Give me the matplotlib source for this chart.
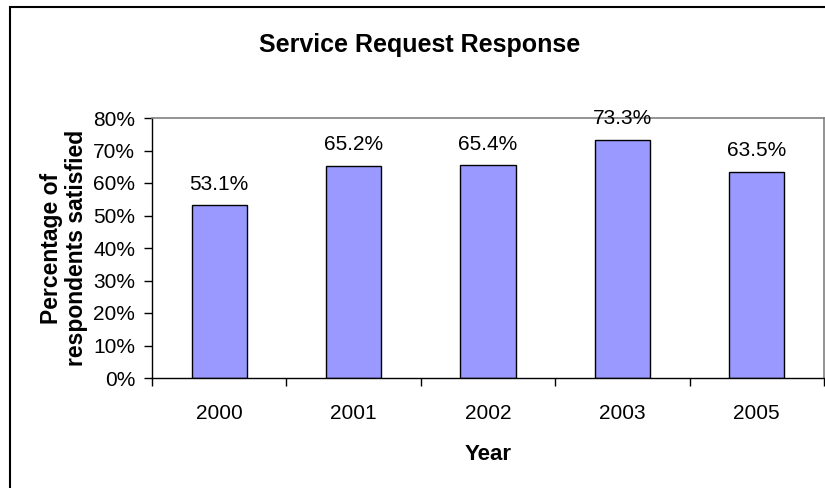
import matplotlib.pyplot as plt
from matplotlib.patches import Rectangle
from matplotlib.ticker import FuncFormatter, FixedLocator

plt.rcParams['font.family'] = ['Liberation Sans', 'DejaVu Sans']

years = ['2000', '2001', '2002', '2003', '2005']
satisfied = [53.1, 65.2, 65.4, 73.3, 63.5]

fig = plt.figure(figsize=(8.25, 4.88), dpi=100)
ax = fig.add_axes([152 / 825, 1 - 378 / 488, (824 - 152) / 825, (378 - 118) / 488])

x = list(range(len(years)))
bars = ax.bar(x, satisfied, width=0.41, color='#9999FF', edgecolor='black', linewidth=1.0)
for xi, v in zip(x, satisfied):
    ax.text(xi, v + 3.6, f'{v:.1f}%', ha='center', va='bottom', fontsize=15)

ax.set_xlim(-0.5, len(years) - 0.5)
ax.set_ylim(0, 80)
ax.set_yticks(range(0, 81, 10))
ax.yaxis.set_major_formatter(FuncFormatter(lambda v, p: f'{v:.0f}%'))
ax.tick_params(axis='y', direction='out', length=6, width=1, labelsize=15, pad=6)

# category labels under bars, ticks between the categories
ax.set_xticks(x)
ax.set_xticklabels(years)
ax.tick_params(axis='x', which='major', length=0, labelsize=15, pad=19)
ax.xaxis.set_minor_locator(FixedLocator([i - 0.5 for i in range(len(years) + 1)]))
ax.tick_params(axis='x', which='minor', direction='out', length=6, width=1)

for side in ['top', 'right']:
    ax.spines[side].set_color('#808080')
    ax.spines[side].set_linewidth(1.2)
for side in ['left', 'bottom']:
    ax.spines[side].set_color('black')
    ax.spines[side].set_linewidth(1.0)

ax.set_xlabel('Year', fontsize=16, fontweight='bold', labelpad=15)
ax.set_ylabel('Percentage of\nrespondents satisfied', fontsize=16.5, fontweight='bold',
              labelpad=4, linespacing=1.1)

fig.text(420 / 825, 1 - 45 / 488, 'Service Request Response', ha='center', va='center',
         fontsize=18, fontweight='bold')

# chart frame, cut off at right and bottom edges
fig.patches.append(Rectangle((10 / 825, -0.1), 1.2, 1 - 7 / 488 + 0.1, transform=fig.transFigure,
                             fill=False, edgecolor='black', linewidth=1.5))

fig.savefig('out.png', dpi=100)
